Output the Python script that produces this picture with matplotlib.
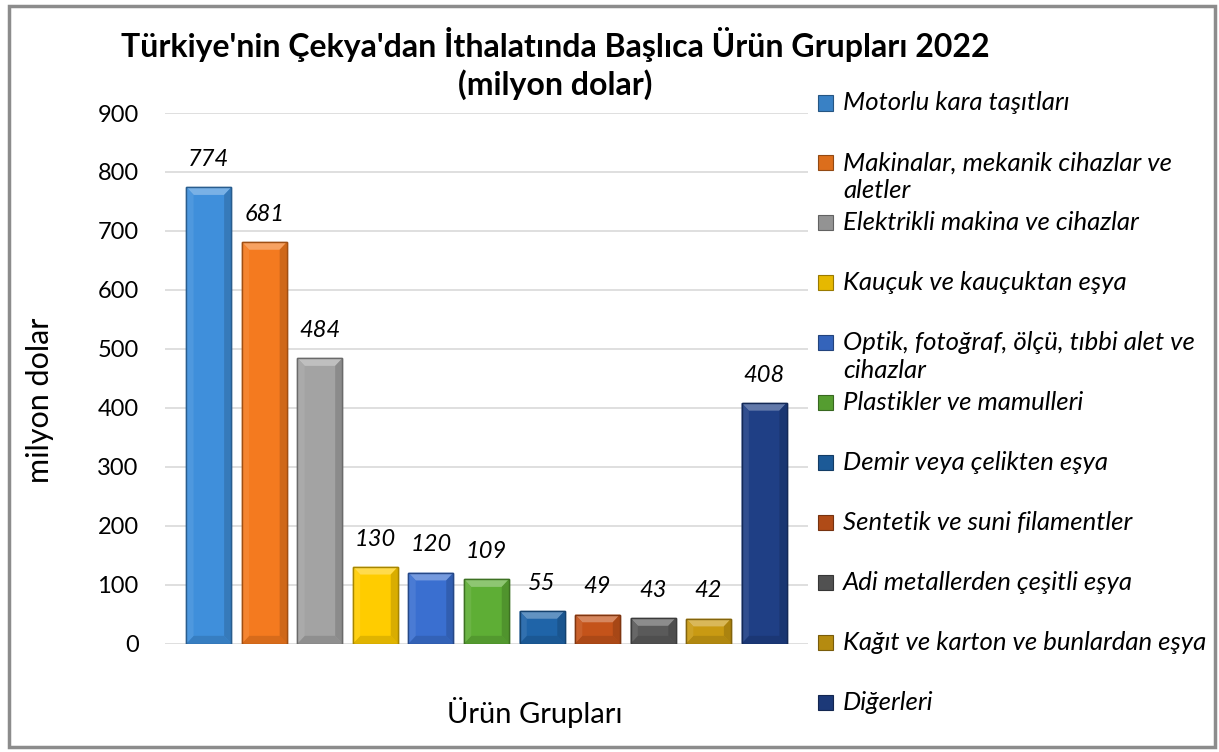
import matplotlib
matplotlib.use("Agg")
import matplotlib.pyplot as plt
from matplotlib.patches import Polygon, Rectangle
import matplotlib.colors as mcolors
import numpy as np

categories = [
    "Motorlu kara taşıtları",
    "Makinalar, mekanik cihazlar ve\naletler",
    "Elektrikli makina ve cihazlar",
    "Kauçuk ve kauçuktan eşya",
    "Optik, fotoğraf, ölçü, tıbbi alet ve\ncihazlar",
    "Plastikler ve mamulleri",
    "Demir veya çelikten eşya",
    "Sentetik ve suni filamentler",
    "Adi metallerden çeşitli eşya",
    "Kağıt ve karton ve bunlardan eşya",
    "Diğerleri",
]
values = [774, 681, 484, 130, 120, 109, 55, 49, 43, 42, 408]
colors = ["#3F8FDB", "#F47A1F", "#A3A3A3", "#FFCC00", "#3A6FD0", "#5EAE35",
          "#1F64A8", "#C4531A", "#5A5A5A", "#C99A12", "#1F3F85"]
yticks = [0, 100, 200, 300, 400, 500, 600, 700, 800, 900]

FONT = "Lato"
plt.rcParams['font.family'] = [FONT, 'DejaVu Sans']

W, H = 1219, 752
fig = plt.figure(figsize=(W / 100, H / 100), dpi=100)
ax = fig.add_axes([165 / W, 1 - 643.5 / H, (808 - 165) / W, (643.5 - 113) / H])

x = np.arange(len(values))
bw = 0.81


def shade(c, f):
    r, g, b = mcolors.to_rgb(c)
    if f > 0:
        return (r + (1 - r) * f, g + (1 - g) * f, b + (1 - b) * f)
    return (r * (1 + f), g * (1 + f), b * (1 + f))


bars = ax.bar(x, values, width=bw, color=colors, edgecolor=[shade(c, -0.35) for c in colors],
              linewidth=1.0, zorder=3)

# bevel effect
bx = 0.13
by = 13.0
for xi, v, c in zip(x, values, colors):
    l, r = xi - bw / 2, xi + bw / 2
    byy = min(by, v / 2)
    top = Polygon([(l, v), (r, v), (r - bx, v - byy), (l + bx, v - byy)], closed=True,
                  facecolor=shade(c, 0.30), edgecolor='none', zorder=4)
    bot = Polygon([(l, 0), (r, 0), (r - bx, byy), (l + bx, byy)], closed=True,
                  facecolor=shade(c, -0.12), edgecolor='none', zorder=4)
    left = Polygon([(l, 0), (l + bx, byy), (l + bx, v - byy), (l, v)], closed=True,
                   facecolor=shade(c, 0.08), edgecolor='none', zorder=4)
    right = Polygon([(r, 0), (r - bx, byy), (r - bx, v - byy), (r, v)], closed=True,
                    facecolor=shade(c, -0.15), edgecolor='none', zorder=4)
    for p in (top, bot, left, right):
        ax.add_patch(p)
    ax.add_patch(Rectangle((l, 0), bw, v, facecolor='none',
                           edgecolor=shade(c, -0.35), linewidth=1.0, zorder=5))
    ax.annotate(str(v), (xi, v), xytext=(0, 20), textcoords='offset points',
                ha='center', va='center', fontsize=17, fontstyle='italic', color='black')

ax.set_xlim(-0.79, 10.79)
ax.set_ylim(0, 900)
ax.set_yticks(yticks)
ax.set_yticklabels([str(t) for t in yticks], fontsize=17)
ax.set_xticks([])
ax.tick_params(axis='y', length=0, pad=19)
ax.grid(axis='y', color='#D9D9D9', linewidth=1.2, zorder=0)
for s in ax.spines.values():
    s.set_visible(False)

fig.text(555 / W, 1 - 45 / H, "Türkiye'nin Çekya'dan İthalatında Başlıca Ürün Grupları 2022",
         ha='center', va='center', fontsize=23, fontweight='bold')
fig.text(555 / W, 1 - 85 / H, "(milyon dolar)", ha='center', va='center',
         fontsize=23, fontweight='bold')
fig.text(40 / W, 1 - 400 / H, "milyon dolar", ha='center', va='center', rotation=90, fontsize=22)
fig.text(535 / W, 1 - 712 / H, "Ürün Grupları", ha='center', va='center', fontsize=21)

# legend
y0, dy = 103, 59.95
for i, (lab, c) in enumerate(zip(categories, colors)):
    yc = y0 + i * dy
    fig.patches.append(Rectangle((818 / W, 1 - (yc + 7.5) / H), 15 / W, 15 / H,
                                 transform=fig.transFigure, facecolor=shade(c, -0.1),
                                 edgecolor=shade(c, -0.4), linewidth=0.8))
    lines = lab.split("\n")
    for j, ln in enumerate(lines):
        fig.text(843 / W, 1 - (yc + j * 28) / H, ln, ha='left', va='center',
                 fontsize=18.5, fontstyle='italic')

# border
fig.patches.append(Rectangle((9 / W, 1 - 747 / H), (1215 - 9) / W, (747 - 6) / H,
                             transform=fig.transFigure, facecolor='none',
                             edgecolor='#8C8C8C', linewidth=2.5))

fig.savefig("out.png", dpi=100)
